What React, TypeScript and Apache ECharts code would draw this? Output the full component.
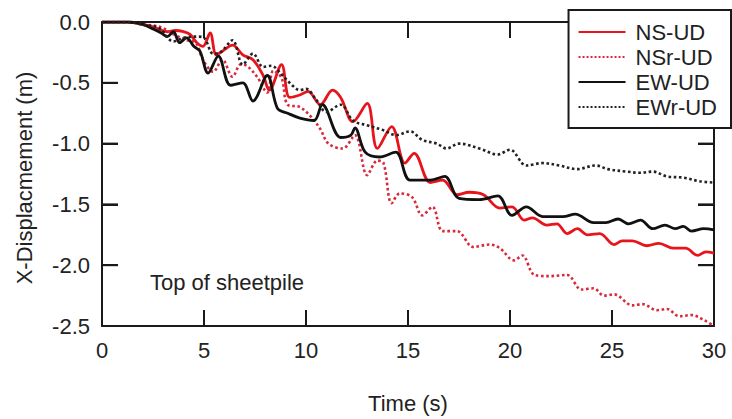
import React, { useEffect, useRef } from "react";
import * as echarts from "echarts";

// Time (s) and X-displacement (m) samples
const NS_T = [0, 1.3, 2.0, 2.5, 3.2, 3.6, 4.0, 4.3, 4.65, 4.95, 5.3, 5.6, 5.9, 6.4, 6.9, 7.4, 7.9, 8.2, 8.8, 9.2, 9.7, 10.1, 10.7, 11.3, 11.7, 12.3, 13.0, 13.5, 14.2, 14.85, 15.3, 16.1, 16.7, 17.4, 18.0, 18.7, 19.5, 20.1, 20.7, 21.1, 21.8, 22.3, 22.8, 23.3, 23.8, 24.4, 25.1, 25.5, 26.0, 26.7, 27.3, 28.0, 28.6, 29.2, 29.6, 30];
const NS_V = [0, 0, -0.02, -0.04, -0.08, -0.07, -0.08, -0.1, -0.17, -0.2, -0.09, -0.27, -0.24, -0.19, -0.27, -0.31, -0.44, -0.56, -0.35, -0.62, -0.6, -0.57, -0.68, -0.56, -0.62, -0.82, -0.67, -1.04, -0.86, -1.16, -1.08, -1.32, -1.3, -1.42, -1.4, -1.42, -1.53, -1.52, -1.63, -1.61, -1.67, -1.66, -1.74, -1.7, -1.75, -1.74, -1.83, -1.8, -1.8, -1.84, -1.82, -1.86, -1.86, -1.92, -1.89, -1.9];

const NSR_T = [0, 1.3, 2.0, 2.85, 3.5, 4.15, 4.6, 4.95, 5.45, 5.9, 6.4, 6.8, 7.1, 7.6, 8.1, 8.4, 8.8, 9.1, 9.7, 10.3, 10.7, 11.1, 11.8, 12.4, 13.0, 13.5, 13.8, 14.2, 14.6, 15.2, 15.7, 16.2, 16.7, 17.4, 18.2, 19.0, 19.5, 20.2, 20.6, 21.2, 21.9, 22.8, 23.5, 24.1, 24.6, 25.1, 26.0, 26.5, 27.2, 27.7, 28.3, 28.9, 29.5, 30];
const NSR_V = [0, 0, -0.02, -0.04, -0.1, -0.15, -0.17, -0.31, -0.41, -0.31, -0.45, -0.35, -0.36, -0.45, -0.58, -0.4, -0.46, -0.68, -0.7, -0.79, -0.88, -1.0, -1.04, -0.93, -1.26, -1.14, -1.16, -1.49, -1.41, -1.44, -1.59, -1.52, -1.72, -1.72, -1.85, -1.83, -1.86, -1.96, -1.92, -2.08, -2.09, -2.08, -2.2, -2.19, -2.25, -2.24, -2.33, -2.32, -2.37, -2.36, -2.42, -2.41, -2.45, -2.5];

const EW_T = [0, 1.3, 2.0, 2.4, 2.9, 3.2, 3.5, 3.8, 4.15, 4.5, 4.8, 5.2, 5.7, 6.3, 6.9, 7.4, 8.1, 8.6, 9.1, 9.7, 10.4, 10.8, 11.7, 12.2, 12.4, 12.9, 13.6, 14.4, 15.1, 16.1, 16.8, 17.5, 18.5, 19.4, 20.1, 20.8, 21.6, 22.6, 23.2, 24.1, 24.7, 25.3, 25.8, 26.4, 27.0, 27.6, 28.1, 28.5, 28.9, 29.5, 30];
const EW_V = [0, 0, -0.02, -0.05, -0.09, -0.12, -0.08, -0.17, -0.13, -0.2, -0.24, -0.42, -0.28, -0.52, -0.5, -0.65, -0.44, -0.71, -0.75, -0.79, -0.81, -0.68, -0.95, -0.93, -0.87, -1.07, -1.11, -1.07, -1.3, -1.3, -1.27, -1.45, -1.46, -1.43, -1.59, -1.52, -1.6, -1.6, -1.58, -1.65, -1.65, -1.62, -1.66, -1.63, -1.7, -1.67, -1.7, -1.68, -1.72, -1.7, -1.71];

const EWR_T = [0, 1.3, 1.9, 2.8, 3.5, 4.0, 4.65, 5.0, 5.45, 5.8, 6.4, 6.9, 7.4, 7.9, 8.3, 8.8, 9.2, 9.7, 10.0, 10.5, 11.0, 11.7, 12.3, 13.0, 13.8, 14.4, 15.1, 15.7, 16.4, 16.9, 17.5, 18.5, 19.4, 20.0, 20.8, 21.6, 22.4, 23.3, 24.2, 24.8, 25.7, 26.4, 27.0, 27.7, 28.5, 29.3, 30];
const EWR_V = [0, 0, -0.02, -0.05, -0.16, -0.13, -0.12, -0.13, -0.26, -0.25, -0.15, -0.35, -0.26, -0.37, -0.36, -0.43, -0.5, -0.56, -0.55, -0.64, -0.74, -0.68, -0.81, -0.85, -0.89, -0.93, -0.9, -0.97, -1.0, -1.04, -1.0, -1.04, -1.09, -1.05, -1.18, -1.16, -1.18, -1.21, -1.18, -1.21, -1.23, -1.24, -1.23, -1.27, -1.28, -1.31, -1.32];

const SERIES_NAMES = ["NS-UD", "NSr-UD", "EW-UD", "EWr-UD"];
const X_TICKS = [5, 10, 15, 20, 25];
const Y_TICKS = [-0.5, -1.0, -1.5, -2.0];
const X_MIN = 0, X_MAX = 30, X_STEP = 5;
const Y_MIN = -2.5, Y_MAX = 0, Y_STEP = 0.5;
const X_TITLE = "Time (s)";
const Y_TITLE = "X-Displacmement (m)";
const NOTE = "Top of sheetpile";

const FONT = "'Liberation Sans', Arial, Helvetica, sans-serif";
const TXT = "#222";
const AX = "#1a1a1a";
const TICK_LEN = 16;
const TICK_W = 2;

const zip = (t: number[], v: number[]) => t.map((x, i) => [x, v[i]]);

export default function App() {
  const ref = useRef<HTMLDivElement>(null);
  useEffect(() => {
    if (!ref.current) return;
    const chart = echarts.init(ref.current, null, { renderer: "svg" });
    const axisLine = () => ({ show: true, onZero: false, lineStyle: { color: AX, width: 2 } });
    const noLine = () => ({ show: false, onZero: false });
    const outTick = () => ({ show: true, inside: false, length: TICK_LEN, lineStyle: { color: AX, width: TICK_W } });
    const mk = (name: string, data: number[][], color: string, type: string, width: number) => ({
      name,
      type: "line",
      data,
      showSymbol: false,
      symbol: "none",
      smooth: 0.35,
      lineStyle: { color, width, type },
      itemStyle: { color },
      z: 3,
    });
    // inward ticks on all four sides, drawn as thin filled rects through the axes' scales
    const xTickSeries = {
      type: "custom",
      silent: true,
      clip: false,
      z: 5,
      data: X_TICKS.map((t) => [t, Y_MIN]),
      renderItem: (_p: any, api: any) => {
        const t = api.value(0);
        const b = api.coord([t, Y_MIN]);
        const tp = api.coord([t, Y_MAX]);
        return {
          type: "group",
          children: [
            { type: "rect", shape: { x: b[0] - TICK_W / 2, y: b[1] - TICK_LEN, width: TICK_W, height: TICK_LEN }, style: { fill: AX } },
            { type: "rect", shape: { x: tp[0] - TICK_W / 2, y: tp[1], width: TICK_W, height: TICK_LEN }, style: { fill: AX } },
          ],
        };
      },
    };
    const yTickSeries = {
      type: "custom",
      silent: true,
      clip: false,
      z: 5,
      data: Y_TICKS.map((v) => [X_MIN, v]),
      renderItem: (_p: any, api: any) => {
        const v = api.value(1);
        const l = api.coord([X_MIN, v]);
        const r = api.coord([X_MAX, v]);
        return {
          type: "group",
          children: [
            { type: "rect", shape: { x: l[0], y: l[1] - TICK_W / 2, width: TICK_LEN, height: TICK_W }, style: { fill: AX } },
            { type: "rect", shape: { x: r[0] - TICK_LEN, y: r[1] - TICK_W / 2, width: TICK_LEN, height: TICK_W }, style: { fill: AX } },
          ],
        };
      },
    };
    const xBase = { type: "value", min: X_MIN, max: X_MAX, interval: X_STEP, splitLine: { show: false } };
    const yBase = { type: "value", min: Y_MIN, max: Y_MAX, interval: Y_STEP, splitLine: { show: false } };
    chart.setOption({
      animation: false,
      grid: { left: 102, right: 18, top: 22, bottom: 93, containLabel: false },
      xAxis: [
        {
          ...xBase, position: "bottom",
          axisLine: axisLine(), axisTick: { show: false },
          axisLabel: { fontSize: 22, fontFamily: FONT, color: TXT, margin: 13 },
        },
        { ...xBase, position: "top", axisLine: axisLine(), axisTick: { show: false }, axisLabel: { show: false } },
        // tick-only axes moved inside the frame, their outward ticks reach back to the frame
        { ...xBase, position: "bottom", offset: -TICK_LEN, axisLine: noLine(), axisTick: outTick(), axisLabel: { show: false } },
        { ...xBase, position: "top", offset: -TICK_LEN, axisLine: noLine(), axisTick: outTick(), axisLabel: { show: false } },
      ],
      yAxis: [
        {
          ...yBase, position: "left",
          axisLine: axisLine(), axisTick: { show: false },
          axisLabel: { fontSize: 22, fontFamily: FONT, color: TXT, margin: 12, formatter: (v: number) => v.toFixed(1) },
        },
        { ...yBase, position: "right", axisLine: axisLine(), axisTick: { show: false }, axisLabel: { show: false } },
        { ...yBase, position: "left", offset: -TICK_LEN, axisLine: noLine(), axisTick: outTick(), axisLabel: { show: false } },
        { ...yBase, position: "right", offset: -TICK_LEN, axisLine: noLine(), axisTick: outTick(), axisLabel: { show: false } },
      ],
      legend: {
        data: SERIES_NAMES,
        orient: "vertical",
        right: 1,
        top: 10,
        z: 10,
        backgroundColor: "#fff",
        borderColor: AX,
        borderWidth: 2,
        borderRadius: 0,
        padding: [11, 14, 10, 9],
        itemWidth: 47,
        itemHeight: 14,
        itemGap: 3,
        itemStyle: { opacity: 0 },
        textStyle: { fontSize: 22, lineHeight: 22, fontFamily: FONT, color: TXT, padding: [0, 0, 0, 5] },
      },
      series: [
        mk(SERIES_NAMES[0], zip(NS_T, NS_V), "#e8141c", "solid", 2.8),
        mk(SERIES_NAMES[1], zip(NSR_T, NSR_V), "#d82a3a", "dotted", 2.6),
        mk(SERIES_NAMES[2], zip(EW_T, EW_V), "#111111", "solid", 2.8),
        mk(SERIES_NAMES[3], zip(EWR_T, EWR_V), "#222222", "dotted", 2.6),
        xTickSeries,
        yTickSeries,
      ],
      graphic: [
        {
          type: "text", x: 408, y: 403,
          style: { text: X_TITLE, fontSize: 22, fontFamily: FONT, fill: TXT, align: "center", verticalAlign: "middle" },
        },
        {
          type: "text", x: 24, y: 178, rotation: Math.PI / 2,
          style: { text: Y_TITLE, fontSize: 22, fontFamily: FONT, fill: TXT, align: "center", verticalAlign: "middle" },
        },
        {
          type: "text", x: 150, y: 282,
          style: { text: NOTE, fontSize: 22, fontFamily: FONT, fill: TXT, align: "left", verticalAlign: "middle" },
        },
      ],
    });
    return () => chart.dispose();
  }, []);
  return (
    <div
      ref={ref}
      style={{ position: "fixed", left: 0, top: 0, width: 732, height: 419, background: "#fff" }}
    />
  );
}
